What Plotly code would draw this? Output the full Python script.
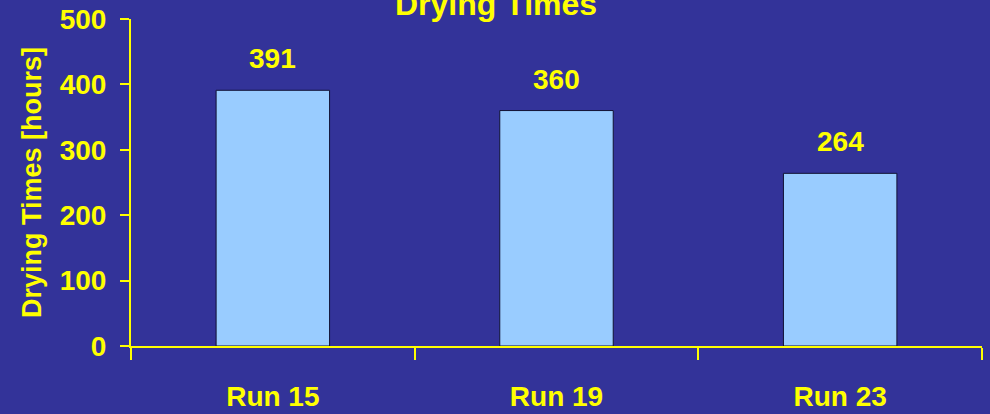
import plotly.graph_objects as go

# Drying times per run
runs = ["Run 15", "Run 19", "Run 23"]
hours = [391, 360, 264]
y_ticks = [0, 100, 200, 300, 400, 500]

BG = "#333399"
YELLOW = "#FFFF00"
FONT = "Liberation Sans, Arial, sans-serif"

fig = go.Figure()
fig.add_trace(go.Bar(
    x=runs,
    y=hours,
    width=0.4,
    marker=dict(color="#99CCFF", line=dict(color="#111133", width=1)),
    hoverinfo="x+y",
))

# value labels above each bar
for r, h in zip(runs, hours):
    fig.add_annotation(
        x=r, y=h, xref="x", yref="y",
        text=str(h), showarrow=False,
        yanchor="bottom", yshift=14,
        font=dict(family=FONT, size=28, color=YELLOW, weight="bold"),
    )

# chart title, centred on the page and partly above the top edge
fig.add_annotation(
    x=0.429, xref="paper", y=1, yref="paper",
    xanchor="center", yanchor="bottom", yshift=-5,
    text="Drying Times", showarrow=False,
    font=dict(family=FONT, size=32, color=YELLOW, weight="bold"),
)

fig.update_layout(
    width=990, height=414,
    margin=dict(l=131, r=8, t=19, b=68),
    paper_bgcolor=BG, plot_bgcolor=BG,
    showlegend=False,
    bargap=0.6,
    xaxis=dict(
        automargin=False,
        showgrid=False, zeroline=False,
        showline=True, linecolor=YELLOW, linewidth=2,
        ticks="outside", tickson="boundaries", ticklen=12,
        tickwidth=2, tickcolor=YELLOW,
        ticklabelstandoff=24,
        tickfont=dict(family=FONT, size=28, color=YELLOW, weight="bold"),
    ),
    yaxis=dict(
        automargin=False,
        range=[0, 500], tickvals=y_ticks,
        showgrid=False, zeroline=False,
        showline=True, linecolor=YELLOW, linewidth=2,
        ticks="outside", ticklen=9, tickwidth=2, tickcolor=YELLOW,
        ticklabelstandoff=8,
        tickfont=dict(family=FONT, size=28, color=YELLOW, weight="bold"),
        title=dict(
            text="Drying Times [hours]",
            standoff=10,
            font=dict(family=FONT, size=27, color=YELLOW, weight="bold"),
        ),
    ),
)

fig.write_html("out.html")
